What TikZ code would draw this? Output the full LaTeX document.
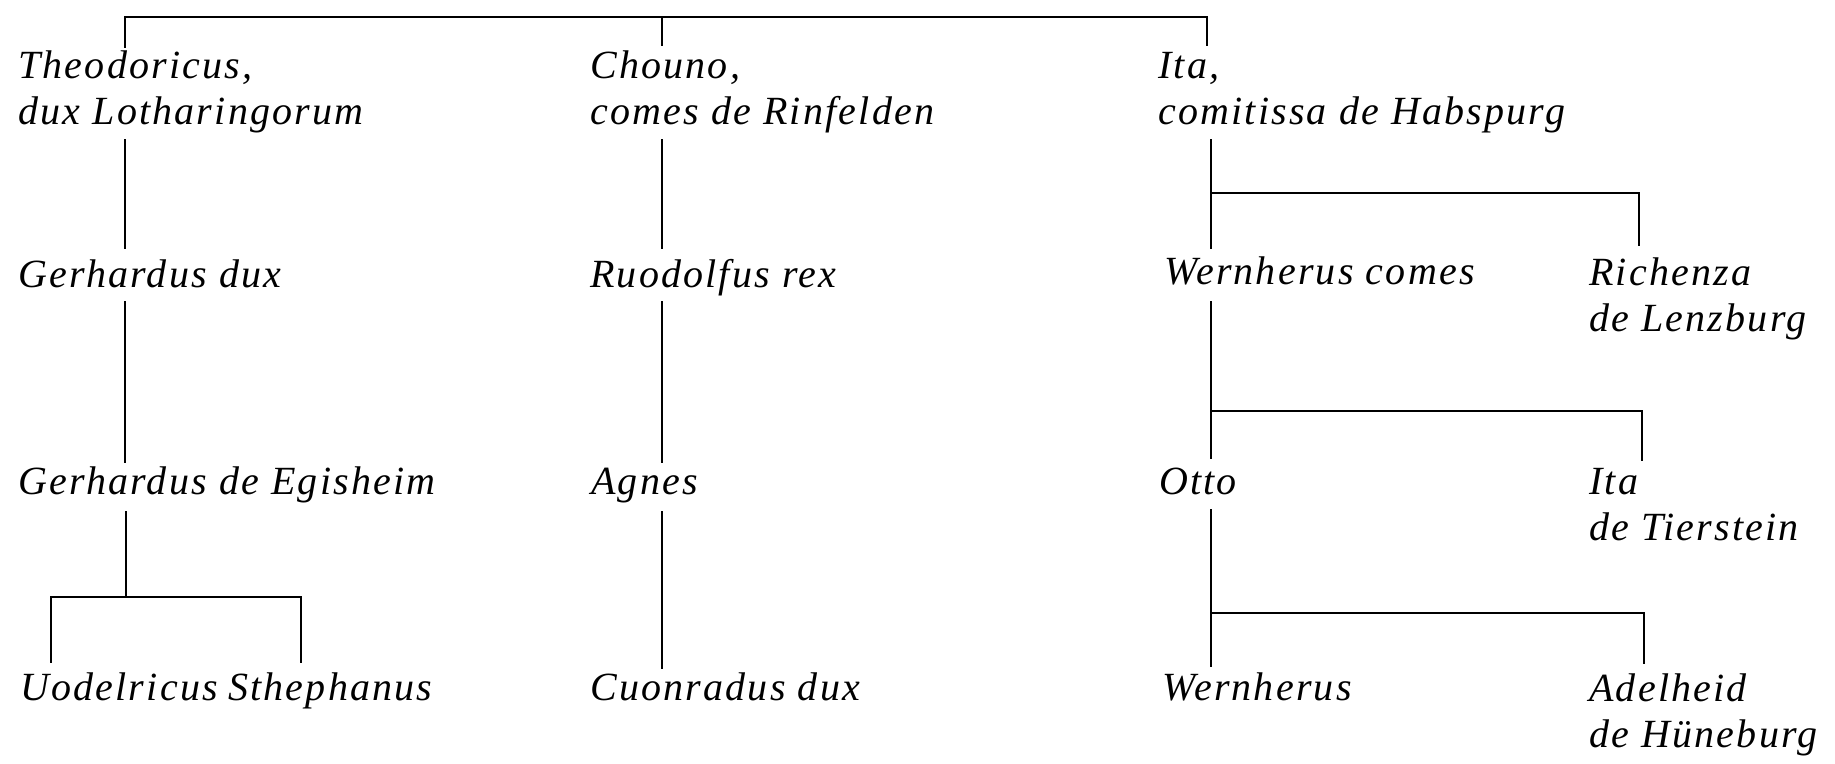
\documentclass[tikz,border=0pt]{standalone}
\usepackage{fontspec}
\setmainfont{Liberation Serif}[LetterSpace=5.5]
\begin{document}
\begin{tikzpicture}[x=1pt,y=-1pt,
  lbl/.style={anchor=base west, inner sep=0pt, font=\fontsize{40}{46}\selectfont\itshape, align=left},
  ln/.style={line width=2.4pt, line cap=rect}]
\useasboundingbox (0,0) rectangle (1835,763);
% people (two-line nodes are anchored on their last baseline)
\node[lbl] (theo) at (18,124) {Theodoricus,\\dux Lotharingorum};
\node[lbl] (chouno) at (590,124) {Chouno,\\comes de Rinfelden};
\node[lbl] (ita) at (1158,124) {Ita,\\comitissa de Habspurg};
\node[lbl] (gdux) at (18,287) {Gerhardus dux};
\node[lbl] (ruod) at (590,287) {Ruodolfus rex};
\node[lbl] (wcomes) at (1164,284) {Wernherus comes};
\node[lbl] (rich) at (1589,331) {Richenza\\de Lenzburg};
\node[lbl] (gegis) at (18,494) {Gerhardus de Egisheim};
\node[lbl] (agnes) at (591,494) {Agnes};
\node[lbl] (otto) at (1159,494) {Otto};
\node[lbl] (itat) at (1589,540) {Ita\\de Tierstein};
\node[lbl] (uodel) at (20,700) {Uodelricus};
\node[lbl] (steph) at (228,700) {Sthephanus};
\node[lbl] (cuon) at (590,700) {Cuonradus dux};
\node[lbl] (wern) at (1162,700) {Wernherus};
\node[lbl] (adel) at (1589,747) {Adelheid\\de Hüneburg};
% junction coordinates
\coordinate (tA) at (125,17); \coordinate (tAe) at (125,47);
\coordinate (tB) at (662,17); \coordinate (tBe) at (662,45);
\coordinate (tC) at (1207,17); \coordinate (tCe) at (1207,45);
\coordinate (a1) at (125,140); \coordinate (a2) at (125,248);
\coordinate (a3) at (125,302); \coordinate (a4) at (125,462);
\coordinate (a5) at (126,512); \coordinate (a6) at (126,597);
\coordinate (aL) at (51,597); \coordinate (aLe) at (51,662);
\coordinate (aR) at (301,597); \coordinate (aRe) at (301,662);
\coordinate (b1) at (662,140); \coordinate (b2) at (662,248);
\coordinate (b3) at (662,302); \coordinate (b4) at (662,462);
\coordinate (b5) at (662,512); \coordinate (b6) at (662,668);
\coordinate (c1) at (1211,140); \coordinate (c2) at (1211,248);
\coordinate (cj1) at (1211,193); \coordinate (cr1) at (1639,193); \coordinate (cr1e) at (1639,245);
\coordinate (c3) at (1211,302); \coordinate (c4) at (1211,458);
\coordinate (cj2) at (1211,411); \coordinate (cr2) at (1642,411); \coordinate (cr2e) at (1642,460);
\coordinate (c5) at (1211,510); \coordinate (c6) at (1211,666);
\coordinate (cj3) at (1211,613); \coordinate (cr3) at (1644,613); \coordinate (cr3e) at (1644,663);
% connectors
\draw[ln] (tAe) -- (tA) -- (tC) -- (tCe);
\draw[ln] (tB) -- (tBe);
\draw[ln] (a1) -- (a2);
\draw[ln] (a3) -- (a4);
\draw[ln] (a5) -- (a6);
\draw[ln] (aLe) -- (aL) -- (aR) -- (aRe);
\draw[ln] (b1) -- (b2);
\draw[ln] (b3) -- (b4);
\draw[ln] (b5) -- (b6);
\draw[ln] (c1) -- (c2);
\draw[ln] (cj1) -- (cr1) -- (cr1e);
\draw[ln] (c3) -- (c4);
\draw[ln] (cj2) -- (cr2) -- (cr2e);
\draw[ln] (c5) -- (c6);
\draw[ln] (cj3) -- (cr3) -- (cr3e);
\end{tikzpicture}
\end{document}
